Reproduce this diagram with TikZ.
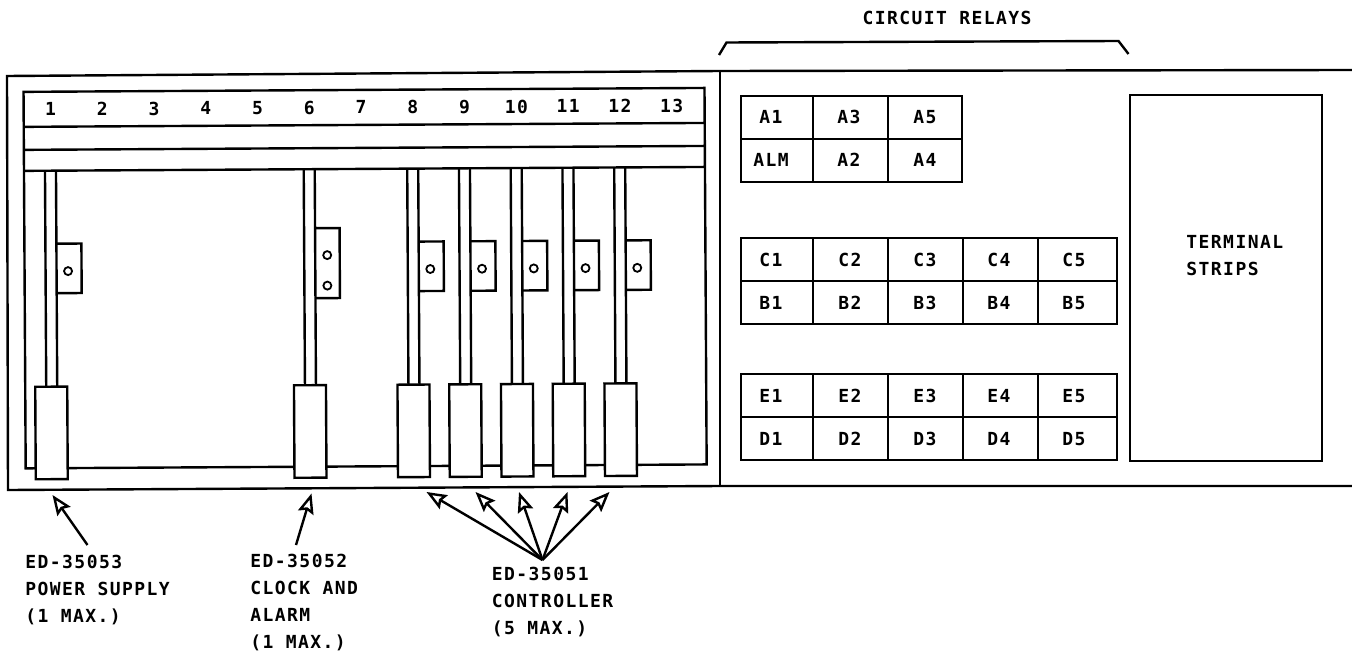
\documentclass[tikz,border=0pt]{standalone}
\usepackage{fontspec}
\usetikzlibrary{arrows.meta}
\newfontfamily\plotfont[LetterSpace=8]{DejaVu Sans Mono}
\tikzset{
	wire/.style={line width=1.2pt,line join=miter},
	cardbox/.style={wire,fill=white},
	pointer/.style={wire,-{Stealth[open,length=10pt,width=8pt,inset=1.5pt]}},
	plot/.style={inner sep=0pt,font=\plotfont\bfseries\fontsize{9pt}{13.5pt}\selectfont},
	note/.style={plot,align=left,anchor=north west},
}
\begin{document}
\begin{tikzpicture}[x=0.5pt,y=-0.5pt]
	\useasboundingbox (0,0) rectangle (1352,652);
	% frame
	\draw[wire] (1352,70) -- (720,71) -- (7,76) -- (8,490) -- (720,486) -- (1352,486);
	\draw[wire] (720,71) -- (720,486);
	% shelf, slightly tilted on the sheet
	\begin{scope}[rotate=0.33]
		\draw[wire] (23,92) rectangle (704,468.5);
		\foreach \y in {127,150,171}
			\draw[wire] (23,\y) -- (704,\y);
		\foreach \n in {1,...,13}
			\node[plot] (slot\n) at ({50+(\n-1)*51.75},109.5) {\n};
		\foreach \n in {1,6,8,9,10,11,12} {
			\pgfmathsetmacro\sx{44+(\n-1)*51.75}
			\draw[wire] (\sx,171) -- (\sx,387);
			\draw[wire] (\sx+11,171) -- (\sx+11,387);
			\draw[cardbox] (\sx-11,387) rectangle (\sx+21,479.5);
		}
		\foreach \n in {1,8,9,10,11,12} {
			\pgfmathsetmacro\sx{44+(\n-1)*51.75}
			\draw[wire] (\sx+11,244) -- (\sx+36,244) -- (\sx+36,293.5) -- (\sx+11,293.5);
			\draw[wire,line width=0.9pt] (\sx+22.5,271.5) circle (4);
		}
		\pgfmathsetmacro\sx{44+5*51.75}
		\draw[wire] (\sx+11,230) -- (\sx+35.5,230) -- (\sx+35.5,300) -- (\sx+11,300);
		\draw[wire,line width=0.9pt] (\sx+23,257) circle (4);
		\draw[wire,line width=0.9pt] (\sx+23,287.5) circle (4);
	\end{scope}
	% relays
	\draw[wire] (719,55) -- (726.5,42.5) -- (1118.5,41) -- (1128.5,54);
	\node[plot] (relays) at (947,18) {CIRCUIT RELAYS};
	\draw[wire] (741,96) rectangle (962,182);
	\draw[wire] (741,139) -- (962,139);
	\foreach \x in {813,888}
		\draw[wire] (\x,96) -- (\x,182);
	\foreach \t in {238,374} {
		\draw[wire] (741,\t) rectangle (1117,\t+86);
		\draw[wire] (741,\t+43) -- (1117,\t+43);
		\foreach \x in {813,888,963,1038}
			\draw[wire] (\x,\t) -- (\x,\t+86);
	}
	\foreach \x/\a/\b in {771/A1/ALM,849/A3/A2,925/A5/A4} {
		\node[plot] (\a) at (\x,117) {\a};
		\node[plot] (\b) at (\x,160) {\b};
	}
	\foreach \x/\n in {771/1,850/2,925/3,999/4,1074/5} {
		\node[plot] (C\n) at (\x,260) {C\n};
		\node[plot] (B\n) at (\x,303) {B\n};
		\node[plot] (E\n) at (\x,396) {E\n};
		\node[plot] (D\n) at (\x,439) {D\n};
	}
	\draw[wire] (1130,95) rectangle (1322,461);
	\node[note] (strips) at (1186,235) {TERMINAL\\STRIPS};
	% callouts
	\node[note] (supply) at (25,555) {ED-35053\\POWER SUPPLY\\(1 MAX.)};
	\node[note] (clock) at (250,553.5) {ED-35052\\CLOCK AND\\ALARM\\(1 MAX.)};
	\node[note] (control) at (491.5,567) {ED-35051\\CONTROLLER\\(5 MAX.)};
	\coordinate (supplytail) at (87.5,545);
	\coordinate (supplytip) at (52.5,495);
	\coordinate (clocktail) at (296,545);
	\coordinate (clocktip) at (311.5,493.5);
	\coordinate (controltail) at (542.5,560);
	\draw[pointer] (supplytail) -- (supplytip);
	\draw[pointer] (clocktail) -- (clocktip);
	\foreach \n/\x in {8/426.5,9/475.5,10/519,11/567.5,12/609.5} {
		\coordinate (tip\n) at (\x,492);
		\draw[pointer] (controltail) -- (tip\n);
	}
\end{tikzpicture}
\end{document}
